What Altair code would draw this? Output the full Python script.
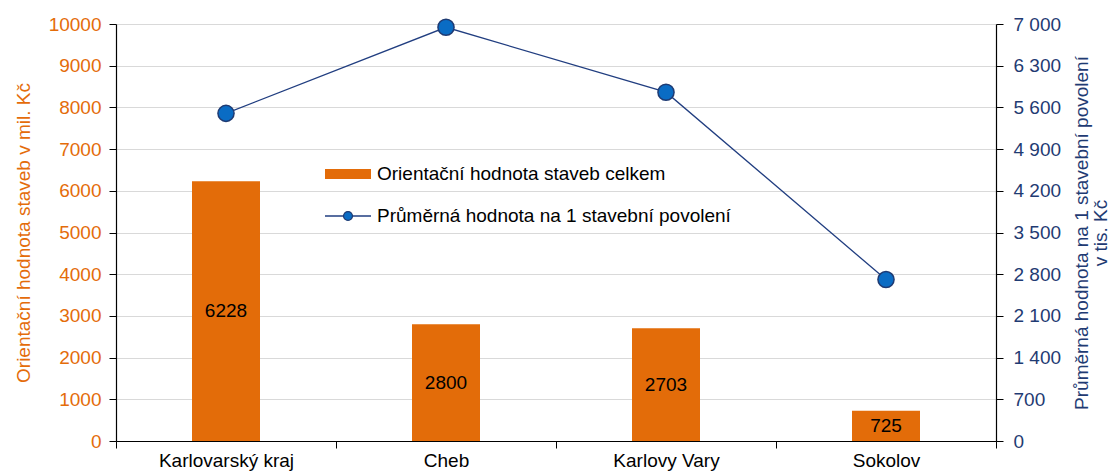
import altair as alt
import pandas as pd

categories = ["Karlovarský kraj", "Cheb", "Karlovy Vary", "Sokolov"]
bar_values = [6228, 2800, 2703, 725]
line_values = [5500, 6945, 5855, 2710]

bar_name = "Orientační hodnota staveb celkem"
line_name = "Průměrná hodnota na 1 stavební povolení"

ORANGE = "#E46C0A"
BAR = "#E36C09"
NAVY = "#1F3B73"
LINE = "#213E80"
DOT = "#0A6CC4"
FONT = "Liberation Sans"
FS = 19

df = pd.DataFrame({"cat": categories, "bar": bar_values, "line": line_values})

xenc = alt.X("cat:N", sort=categories,
             scale=alt.Scale(paddingInner=0, paddingOuter=0),
             axis=alt.Axis(title=None, labelAngle=0, labelColor="black", labelFontSize=FS,
                           labelFont=FONT, domainColor="black", tickColor="black",
                           tickSize=7, tickBand="extent", labelPadding=3, domainWidth=1.2))

bars = alt.Chart(df).mark_bar(size=68, color=BAR).encode(
    x=xenc,
    y=alt.Y("bar:Q", scale=alt.Scale(domain=[0, 10000]),
            axis=alt.Axis(title="Orientační hodnota staveb v mil. Kč", values=list(range(0, 10001, 1000)),
                          format="d",
                          labelColor=ORANGE, titleColor=ORANGE, labelFontSize=FS, titleFontSize=FS,
                          labelFont=FONT, titleFont=FONT, titleFontWeight="normal",
                          domainColor="black", tickColor="black", tickSize=7, labelPadding=8,
                          titlePadding=15, gridColor="#D9D9D9", grid=True, domainWidth=1.2)),
)

texts = alt.Chart(df).transform_calculate(mid="datum.bar / 2").mark_text(
    fontSize=FS, font=FONT, color="black").encode(
    x=alt.X("cat:N", sort=categories),
    y=alt.Y("mid:Q"),
    text=alt.Text("bar:Q", format="d"),
)

yr = alt.Y("line:Q", scale=alt.Scale(domain=[0, 7000]),
           axis=alt.Axis(orient="right", title=[line_name, "v tis. Kč"],
                         values=list(range(0, 7001, 700)),
                         labelExpr="replace(format(datum.value, ','), ',', ' ')",
                         labelColor=NAVY, titleColor=NAVY, labelFontSize=FS, titleFontSize=FS,
                         labelFont=FONT, titleFont=FONT, titleFontWeight="normal",
                         titleAngle=270, titlePadding=12, titleLineHeight=19,
                         domainColor="black", tickColor="black", tickSize=7, labelPadding=10,
                         grid=False, domainWidth=1.2))

line = alt.Chart(df).mark_line(color=LINE, strokeWidth=1.3).encode(
    x=alt.X("cat:N", sort=categories), y=yr)
points = alt.Chart(df).mark_point(filled=True, size=260, fill=DOT, stroke=NAVY,
                                  strokeWidth=1.5, opacity=1).encode(
    x=alt.X("cat:N", sort=categories), y=alt.Y("line:Q"))

# manual legend
legend_df = pd.DataFrame({"a": [0]})
leg_rect = alt.Chart(legend_df).mark_rect(color=BAR).encode(
    x=alt.value(209), x2=alt.value(255), y=alt.value(145), y2=alt.value(155))
leg_t1 = alt.Chart(legend_df).mark_text(align="left", baseline="middle", fontSize=FS,
                                        font=FONT, color="black", text=bar_name).encode(
    x=alt.value(261), y=alt.value(150))
leg_line = alt.Chart(legend_df).mark_rule(color=LINE, strokeWidth=1.3).encode(
    x=alt.value(209), x2=alt.value(255), y=alt.value(192))
leg_pt = alt.Chart(legend_df).mark_point(filled=True, size=80, fill=DOT, stroke=NAVY,
                                         strokeWidth=1.2, opacity=1).encode(
    x=alt.value(232), y=alt.value(192))
leg_t2 = alt.Chart(legend_df).mark_text(align="left", baseline="middle", fontSize=FS,
                                        font=FONT, color="black", text=line_name).encode(
    x=alt.value(261), y=alt.value(192))

left = alt.layer(bars, texts)
right = alt.layer(line, points)
legend = alt.layer(leg_rect, leg_t1, leg_line, leg_pt, leg_t2)

chart = alt.layer(left, right, legend).resolve_scale(y="independent").properties(
    width=880, height=417,
    autosize=alt.AutoSizeParams(type="none"),
    padding={"left": 108, "top": 16, "right": 115, "bottom": 40},
).configure_view(stroke=None).configure(font=FONT)

chart.save("out.html", embed_options={"renderer": "svg", "actions": False})
